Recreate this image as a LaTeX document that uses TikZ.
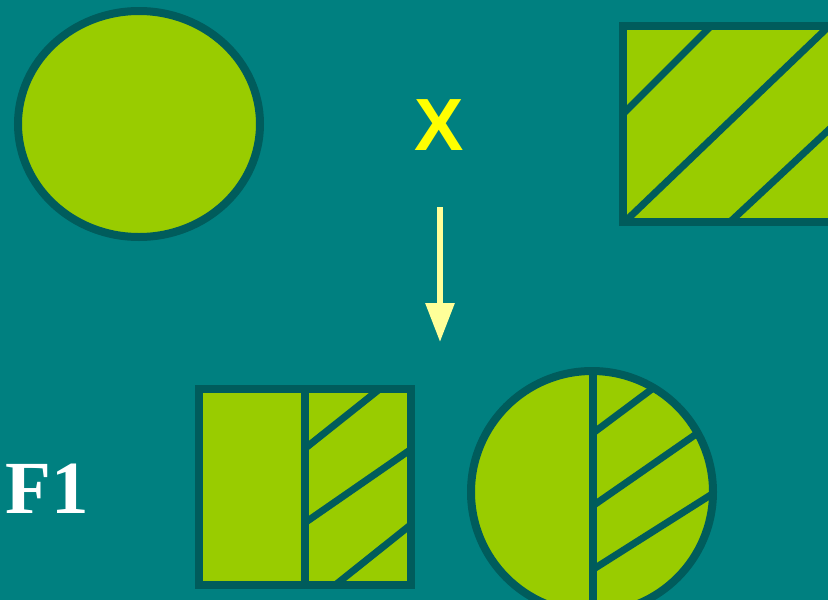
\documentclass[tikz,border=0pt]{standalone}
\usepackage{fontspec}
\newfontfamily\xfont{Liberation Sans}
\newfontfamily\ffont{Liberation Serif}
\definecolor{bgTeal}{RGB}{0,128,128}
\definecolor{limeFill}{RGB}{153,204,0}
\definecolor{darkTeal}{RGB}{0,92,92}
\definecolor{xYellow}{RGB}{255,255,0}
\definecolor{arrYellow}{RGB}{255,255,153}
\usetikzlibrary{arrows.meta}

\begin{document}
\begin{tikzpicture}[
  x=1pt, y=-1pt,
  shp/.style={draw=darkTeal, fill=limeFill, line width=8pt},
  edge/.style={draw=darkTeal, line width=8pt},
  hatch/.style={draw=darkTeal, line width=7pt},
  arr/.style={-{Triangle[width=28pt,length=39pt]}, draw=arrYellow, fill=arrYellow, line width=6pt}
]
  \fill[bgTeal] (0,0) rectangle (828,600);
  \useasboundingbox (0,0) rectangle (828,600);
  \clip (0,0) rectangle (828,600);

  % top left: plain ellipse
  \draw[shp] (139,124) ellipse [x radius=121, y radius=113];

  % top right: hatched rectangle
  \fill[limeFill] (623,26) rectangle (850,222);
  \begin{scope}
    \clip (623,26) rectangle (850,222);
    \draw[hatch] (600,137) -- (735,2);
    \draw[hatch] (610,236) -- (850,6);
    \draw[hatch] (715,236) -- (850,110);
  \end{scope}
  \draw[edge] (623,26) rectangle (850,222);

  % label and arrow
  \node[inner sep=0pt, anchor=base, text=xYellow, font=\xfont\bfseries\fontsize{74}{74}\selectfont] (X) at (439,150) {X};
  \coordinate (arrTop) at (440,207);
  \coordinate (arrTip) at (440,342);
  \draw[arr] (arrTop) -- (arrTip);

  % bottom left: half hatched square
  \fill[limeFill] (199,389) rectangle (411,585);
  \begin{scope}
    \clip (305,389) rectangle (411,585);
    \draw[hatch] (293,458) -- (391,380);
    \draw[hatch] (293,531) -- (423,441);
    \draw[hatch] (324,594) -- (423,515);
  \end{scope}
  \draw[edge] (305,389) -- (305,585);
  \draw[edge] (199,389) rectangle (411,585);

  % bottom right: half hatched circle
  \fill[limeFill] (592,492) circle [radius=121];
  \begin{scope}
    \clip (592,492) circle [radius=121];
    \clip (593,360) rectangle (730,630);
    \draw[hatch] (581,442) -- (668,377);
    \draw[hatch] (581,514) -- (715,421);
    \draw[hatch] (581,577) -- (728,484);
  \end{scope}
  \draw[edge] (593,368) -- (593,616);
  \draw[edge] (592,492) circle [radius=121];

  \node[inner sep=0pt, anchor=base west, text=white, font=\ffont\bfseries\fontsize{75}{75}\selectfont] (F1) at (5,513) {F1};
\end{tikzpicture}
\end{document}
